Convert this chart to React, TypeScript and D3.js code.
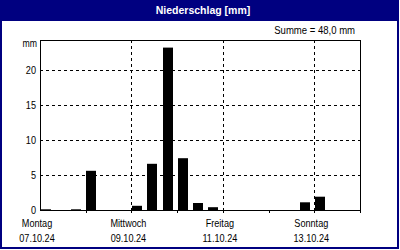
import React from "react";
import * as d3 from "d3";

const slotValues = [0.1, 0, 0.1, 5.6, 0, 0, 0.6, 6.6, 23.2, 7.4, 1.0, 0.4, 0, 0, 0, 0, 0, 1.1, 1.9, 0, 0];
const dayNames = ["Montag", "Mittwoch", "Freitag", "Sonntag"];
const dayDates = ["07.10.24", "09.10.24", "11.10.24", "13.10.24"];
const labelDays = [0, 2, 4, 6];
const yTicks = [0, 5, 10, 15, 20];
const title = "Niederschlag [mm]";
const sumText = "Summe = 48,0 mm";

const W = 400, H = 250;
const L = 40, R = 360, T = 40, B = 210;
const NAVY = "#000080";
const FONT = "'Liberation Sans', Arial, sans-serif";
const SX = 0.83;

function NText(props: { x: number; y: number; anchor: string; dy?: string; size?: number; children: React.ReactNode }) {
  return (
    <text transform={`translate(${props.x},${props.y}) scale(${SX},1)`} textAnchor={props.anchor}
      dy={props.dy} fontSize={props.size ?? 11} fill="#000">{props.children}</text>
  );
}

export default function App() {
  const x = d3.scaleLinear().domain([0, 21]).range([L, R]);
  const y = d3.scaleLinear().domain([0, (B - T) / 7]).range([B, T]);
  const dayX = (d: number) => x(d * 3);
  return (
    <svg width={W} height={H} style={{ position: "absolute", left: 0, top: 0 }} fontFamily={FONT}>
      <rect x={0} y={0} width={W} height={H} fill="#fff" />
      <rect x={0} y={0} width={399} height={21} fill={NAVY} />
      <rect x={1} y={1} width={397} height={247} fill="none" stroke={NAVY} strokeWidth={2} />
      <text x={203} y={14} textAnchor="middle" fill="#fff" fontWeight="bold" fontSize={10.5}>{title}</text>
      <NText x={355} y={34} anchor="end" size={11.5}>{sumText}</NText>
      {/* grid */}
      {yTicks.filter(t => t > 0).map(t => (
        <line key={"h" + t} x1={L} x2={R} y1={Math.round(y(t)) + 0.5} y2={Math.round(y(t)) + 0.5}
          stroke="#000" strokeDasharray="3,3" shapeRendering="crispEdges" />
      ))}
      {[2, 4, 6].map(d => (
        <line key={"v" + d} x1={Math.round(dayX(d)) + 0.5} x2={Math.round(dayX(d)) + 0.5} y1={T} y2={B}
          stroke="#000" strokeDasharray="3,3" shapeRendering="crispEdges" />
      ))}
      {/* bars */}
      {slotValues.map((v, i) => v > 0 ? (
        <rect key={"b" + i} x={Math.round(x(i) + 0.6)} width={10}
          y={y(v)} height={B - y(v)} fill="#000" />
      ) : null)}
      {/* frame */}
      <rect x={L + 0.5} y={T + 0.5} width={R - L} height={B - T} fill="none" stroke="#000" shapeRendering="crispEdges" />
      {d3.range(1, 8).map(d => (
        <line key={"t" + d} x1={Math.round(dayX(d)) + 0.5} x2={Math.round(dayX(d)) + 0.5} y1={B} y2={B + 3}
          stroke="#000" shapeRendering="crispEdges" />
      ))}
      {/* y labels */}
      {yTicks.map(t => (
        <NText key={"y" + t} x={36} y={y(t)} dy="0.35em" anchor="end">{t}</NText>
      ))}
      <NText x={37} y={47} anchor="end" size={10.5}>mm</NText>
      {labelDays.map((d, i) => (
        <g key={"l" + d}>
          <NText x={dayX(d) - 3} y={227} anchor="middle">{dayNames[i]}</NText>
          <NText x={dayX(d) - 3} y={242} anchor="middle">{dayDates[i]}</NText>
        </g>
      ))}
    </svg>
  );
}
